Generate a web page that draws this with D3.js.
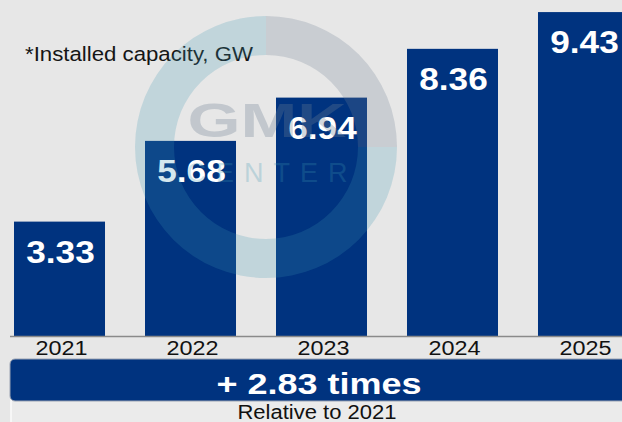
<!DOCTYPE html>
<html>
<head>
<meta charset="utf-8">
<script src="https://cdn.jsdelivr.net/npm/d3@7/dist/d3.min.js"></script>
<style>
  html, body { margin: 0; padding: 0; background: #e7e7e7; overflow: hidden; }
  svg { display: block; }
  text { font-family: "Liberation Sans", Arial, sans-serif; }
</style>
</head>
<body>
<script>
// ---- data ----
const years = ["2021", "2022", "2023", "2024", "2025"];
const capacity = [3.33, 5.68, 6.94, 8.36, 9.43];
const valueLabels = ["3.33", "5.68", "6.94", "8.36", "9.43"];
const unitNote = "*Installed capacity, GW";
const growthLabel = "+ 2.83 times";
const growthNote = "Relative to 2021";
const watermarkTop = "GMK";
const watermarkBottom = "CENTER";

const W = 622, H = 422;
const BLUE = "#00337f";

const svg = d3.select("body").append("svg")
  .attr("width", W).attr("height", H);

svg.append("rect").attr("width", W).attr("height", H).attr("fill", "#e7e7e7");

const x = d3.scaleBand().domain(years).range([-6, 649])
  .paddingInner(0.3053).paddingOuter(0.1527);
const y = d3.scaleLinear().domain([0, 10]).range([336, -7.5]);

// bars
svg.append("g").selectAll("rect").data(years).join("rect")
  .attr("x", d => x(d))
  .attr("y", (d, i) => y(capacity[i]))
  .attr("width", x.bandwidth())
  .attr("height", (d, i) => y(0) - y(capacity[i]))
  .attr("fill", BLUE);

// baseline
svg.append("line").attr("x1", 10).attr("x2", W)
  .attr("y1", y(0) + 0.5).attr("y2", y(0) + 0.5)
  .attr("stroke", "#8a8a8a").attr("stroke-width", 1.5);

// value labels
svg.append("g").selectAll("text").data(years).join("text")
  .attr("transform", (d, i) => `translate(${x(d) + x.bandwidth() / 2 + 1},${y(capacity[i]) + 41}) scale(1.1,1)`)
  .attr("text-anchor", "middle")
  .attr("font-size", 32).attr("font-weight", "bold")
  .attr("fill", "#ffffff")
  .text((d, i) => valueLabels[i]);

// x axis labels
const xAxis = d3.axisBottom(x).tickSize(0).tickPadding(0);
const gx = svg.append("g").attr("transform", `translate(0,${y(0)})`).call(xAxis);
gx.select(".domain").remove();
gx.selectAll(".tick text")
  .attr("y", 0).attr("dy", 0)
  .attr("transform", "translate(2,19) scale(1.2,1)")
  .attr("font-size", 19.5)
  .attr("font-family", "'Liberation Sans', Arial, sans-serif")
  .attr("fill", "#111");

// note
svg.append("text")
  .attr("transform", "translate(25,61) scale(1.14,1)")
  .attr("font-size", 19.5).attr("fill", "#151515")
  .text(unitNote);

// watermark
const wm = svg.append("g").attr("transform", "translate(266,147)");
const arc = d3.arc().innerRadius(92).outerRadius(131);
wm.append("path")
  .attr("d", arc({ startAngle: Math.PI / 2, endAngle: Math.PI * 2 }))
  .attr("fill", "rgb(60,150,178)").attr("opacity", 0.22);
wm.append("path")
  .attr("d", arc({ startAngle: 0, endAngle: Math.PI / 2 }))
  .attr("fill", "rgb(110,128,148)").attr("opacity", 0.25);
wm.append("text")
  .attr("transform", "translate(1,-10) scale(1.42,1)")
  .attr("text-anchor", "middle")
  .attr("font-size", 48).attr("font-weight", "bold")
  .attr("fill", "rgb(110,128,148)").attr("opacity", 0.3)
  .text(watermarkTop);
wm.append("text")
  .attr("transform", "translate(6,35)")
  .attr("text-anchor", "middle")
  .attr("font-size", 27)
  .attr("letter-spacing", 10)
  .attr("fill", "rgb(60,150,178)").attr("opacity", 0.25)
  .text(watermarkBottom);

// bottom box
svg.append("rect")
  .attr("x", 11).attr("y", 396).attr("width", 640).attr("height", 40)
  .attr("rx", 5)
  .attr("fill", "#ebebeb").attr("stroke", "#fbfbfb").attr("stroke-width", 1.5);
svg.append("text")
  .attr("transform", "translate(317,419) scale(1.13,1)")
  .attr("text-anchor", "middle")
  .attr("font-size", 19.5).attr("fill", "#111")
  .text(growthNote);

// blue growth band
svg.append("rect")
  .attr("x", 10).attr("y", 359).attr("width", 640).attr("height", 42)
  .attr("rx", 5)
  .attr("fill", BLUE).attr("stroke", "#9aa3b3").attr("stroke-width", 1);
svg.append("text")
  .attr("transform", "translate(319,394) scale(1.2,1)")
  .attr("text-anchor", "middle")
  .attr("font-size", 30).attr("font-weight", "bold")
  .attr("fill", "#ffffff")
  .text(growthLabel);
</script>
</body>
</html>
